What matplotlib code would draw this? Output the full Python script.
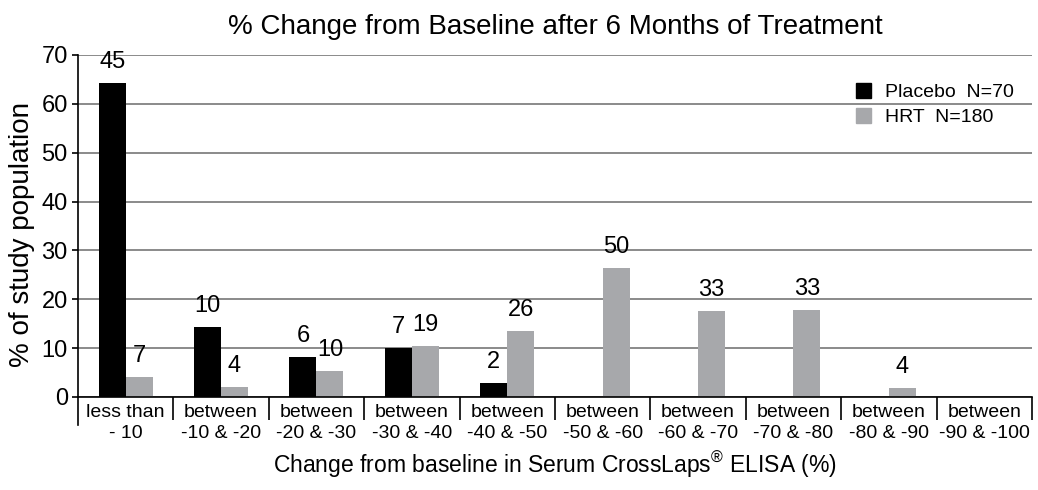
import numpy as np
import matplotlib
matplotlib.use("Agg")
import matplotlib.pyplot as plt
from matplotlib.patches import Patch

plt.rcParams['font.family'] = ['Liberation Sans', 'DejaVu Sans']
plt.rcParams['mathtext.fontset'] = 'custom'
plt.rcParams['mathtext.rm'] = 'Liberation Sans'

# data
categories = ["less than\n- 10", "between\n-10 & -20", "between\n-20 & -30",
              "between\n-30 & -40", "between\n-40 & -50", "between\n-50 & -60",
              "between\n-60 & -70", "between\n-70 & -80", "between\n-80 & -90",
              "between\n-90 & -100"]
placebo_pct = [64.3, 14.3, 8.2, 10.1, 2.8, 0, 0, 0, 0, 0]
hrt_pct = [4.0, 2.1, 5.3, 10.5, 13.6, 26.5, 17.6, 17.8, 1.9, 0]
placebo_n = [45, 10, 6, 7, 2, None, None, None, None, None]
hrt_n = [7, 4, 10, 19, 26, 50, 33, 33, 4, None]

fig = plt.figure(figsize=(10.38, 4.9), dpi=100)
ax = fig.add_axes([0.0751, 0.1898, 0.9191, 0.698])

x = np.arange(len(categories))
w = 0.283
b1 = ax.bar(x - w/2, placebo_pct, w, color="#000000")
b2 = ax.bar(x + w/2, hrt_pct, w, color="#a7a8ab")

# counts above bars
for bars, counts in [(b1, placebo_n), (b2, hrt_n)]:
    for r, c in zip(bars, counts):
        if c is None:
            continue
        ax.annotate(str(c), (r.get_x() + r.get_width()/2, r.get_height()),
                    xytext=(0, 10.8), textcoords="offset points",
                    ha="center", va="baseline", fontsize=17)

ax.set_xlim(-0.5, len(categories) - 0.5)
ax.set_ylim(0, 70)
ax.set_yticks(range(0, 71, 10))
ax.yaxis.grid(True, color="#777777", linewidth=1.2)
ax.set_axisbelow(True)

for s in ["top", "right"]:
    ax.spines[s].set_visible(False)
ax.spines["left"].set_linewidth(1.2)
ax.spines["bottom"].set_linewidth(1.2)

# category separators below the x axis
ax.set_xticks(x)
ax.set_xticklabels(categories, fontsize=14, linespacing=1.3)
ax.set_xticks(np.arange(0.5, len(categories)), minor=True)
ax.tick_params(axis="x", which="major", length=0, pad=5)
ax.tick_params(axis="x", which="minor", length=16.5, width=1.2)
ax.plot([0, 0], [0, -0.082], transform=ax.transAxes, color="black",
        linewidth=1.2, clip_on=False)
ax.tick_params(axis="y", labelsize=17, length=4.3, width=1.2, pad=3)

ax.set_ylabel("% of study population", fontsize=20)
ax.yaxis.set_label_coords(-0.045, 0.474)
ax.set_xlabel(r"Change from baseline in Serum CrossLaps$^{\mathrm{®}}$ ELISA (%)",
              fontsize=16.5, labelpad=6)
ax.set_title("% Change from Baseline after 6 Months of Treatment",
             fontsize=20, pad=15)

handles = [Patch(color="#000000"), Patch(color="#a7a8ab")]
ax.legend(handles, ["Placebo  N=70", "HRT  N=180"], loc="upper left",
          bbox_to_anchor=(0.8155, 0.917), frameon=False, fontsize=14,
          handlelength=0.77, handleheight=0.77, handletextpad=0.72,
          labelspacing=0.35, borderpad=0, borderaxespad=0)

fig.savefig("out.png", dpi=100)
